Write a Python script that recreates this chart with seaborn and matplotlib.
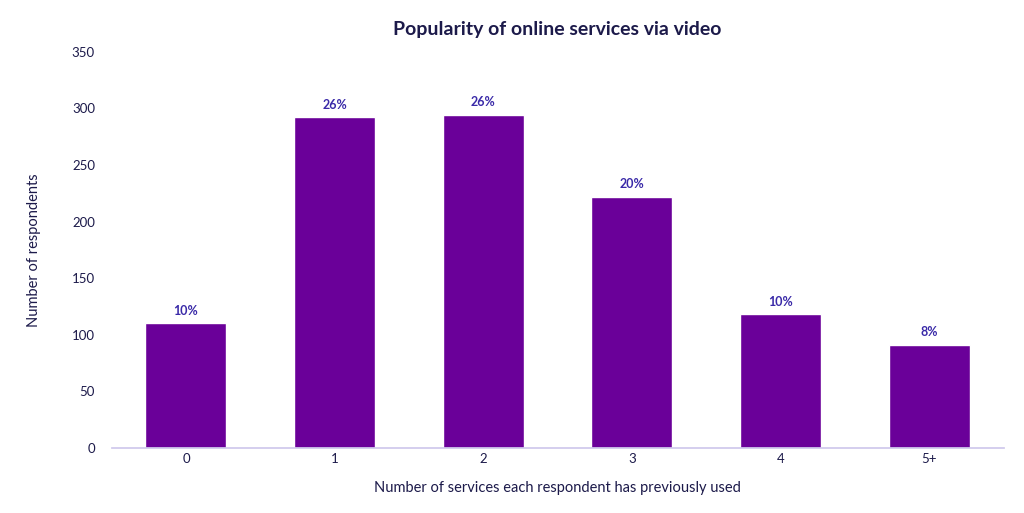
import matplotlib
matplotlib.use("Agg")
import matplotlib.pyplot as plt
import seaborn as sns
import pandas as pd

categories = ["0", "1", "2", "3", "4", "5+"]
respondents = [110, 292, 294, 222, 118, 91]
pct_labels = ["10%", "26%", "26%", "20%", "10%", "8%"]
yticks = [0, 50, 100, 150, 200, 250, 300, 350]

sns.set_theme(style="white")
plt.rcParams['font.family'] = ['Lato', 'DejaVu Sans']
navy = "#1c1a4a"

fig = plt.figure(figsize=(10.24, 5.13), dpi=100)
ax = fig.add_axes([0.109, 0.127, 0.871, 0.772])
df = pd.DataFrame({"cat": categories, "val": respondents})
sns.barplot(data=df, x="cat", y="val", color="#6a0099", saturation=1, width=0.545, ax=ax)

for i, (v, l) in enumerate(zip(respondents, pct_labels)):
    ax.text(i, v + 6, l, ha="center", va="bottom", fontsize=9, fontweight="bold", color="#3a2aa8")

ax.set_ylim(0, 350)
ax.set_yticks(yticks)
ax.tick_params(axis="both", labelsize=9.5, colors=navy, length=0)
ax.set_xlabel("Number of services each respondent has previously used", fontsize=10.5, color=navy, labelpad=12)
ax.set_ylabel("Number of respondents", fontsize=10.5, color=navy, labelpad=22)
for s in ["top", "right", "left"]:
    ax.spines[s].set_visible(False)
ax.spines["bottom"].set_color("#cfc8ec")
ax.yaxis.set_tick_params(pad=12)
ax.set_title("Popularity of online services via video", fontsize=14, fontweight="bold", color=navy, pad=12)

fig.savefig("out.png", dpi=100)
